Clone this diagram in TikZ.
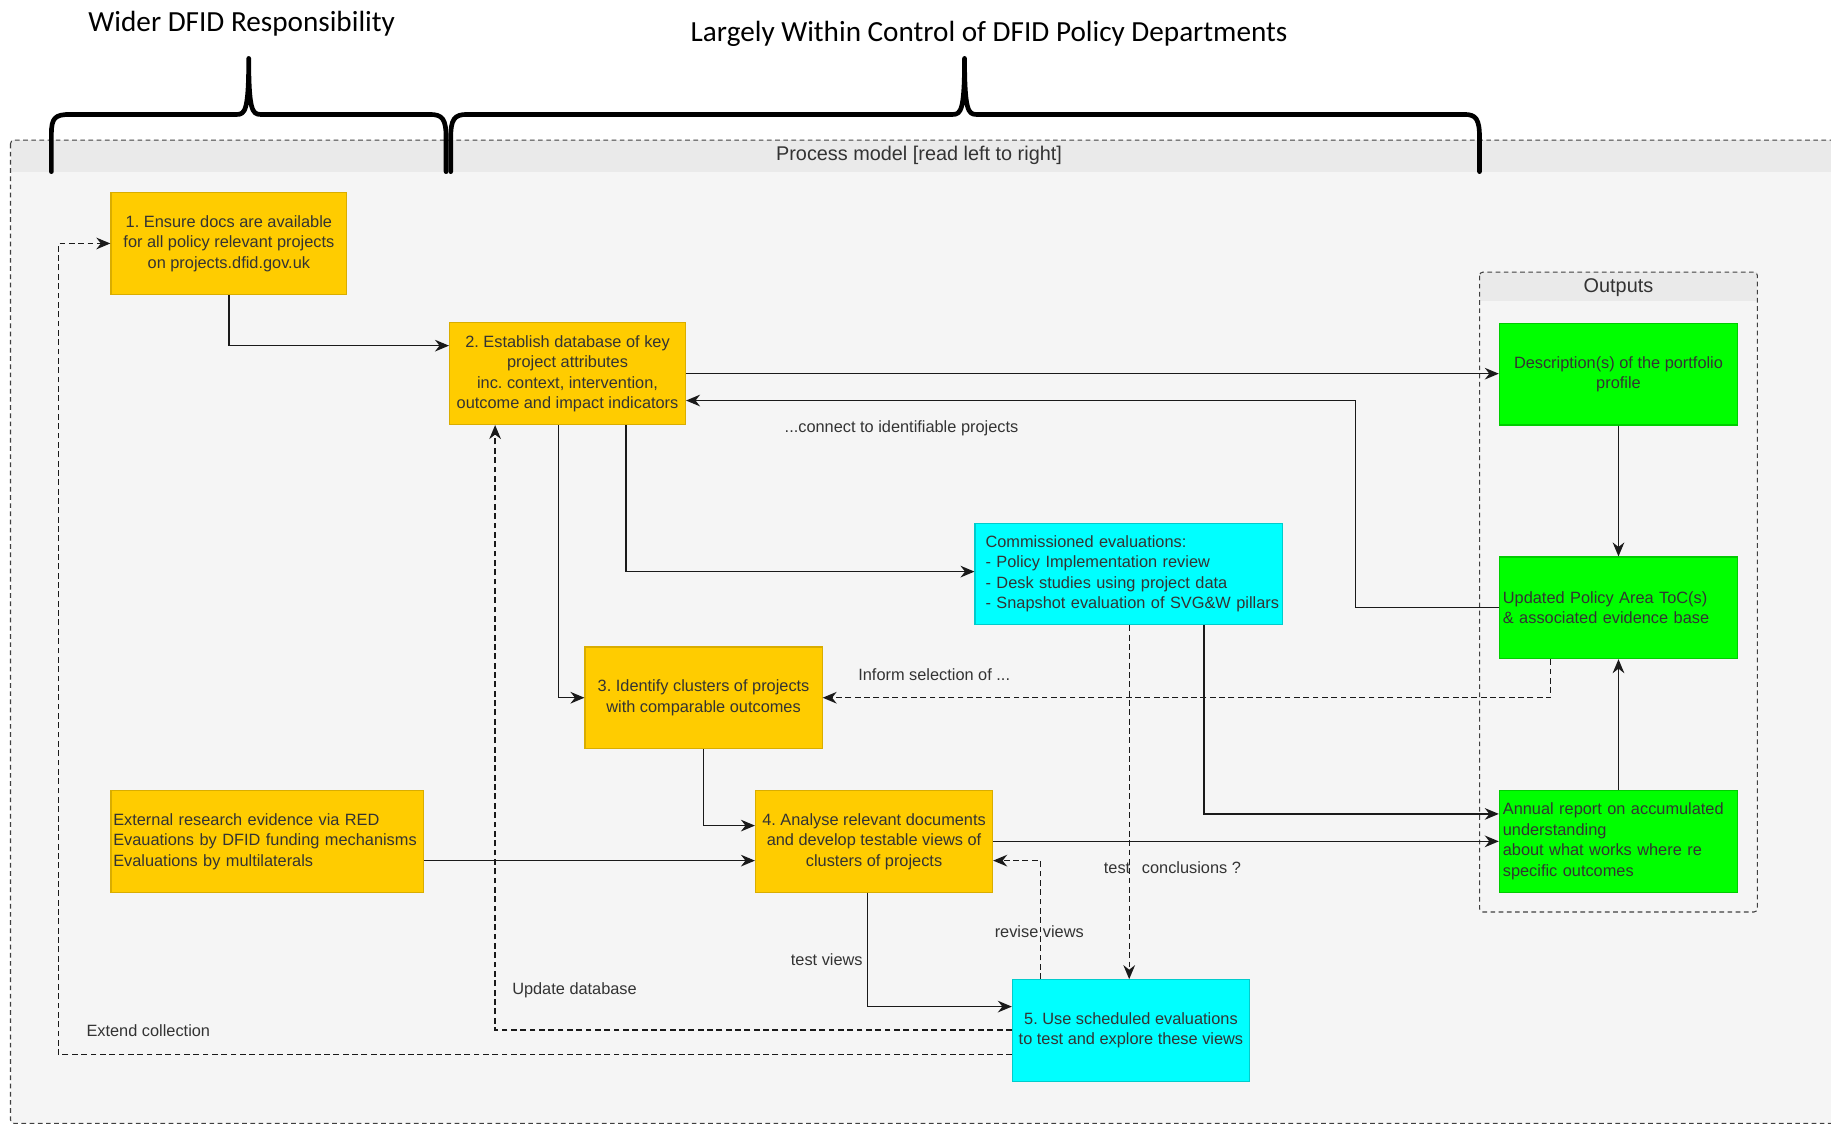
\documentclass[tikz,border=0pt]{standalone}
\usepackage{fontspec}
\setmainfont{Liberation Sans}
\newfontfamily\calib{Carlito}
\usetikzlibrary{arrows.meta}
\definecolor{ybox}{HTML}{FFCC00}
\definecolor{yborder}{HTML}{D9AD00}
\definecolor{cbox}{HTML}{00FFFF}
\definecolor{cborder}{HTML}{00CCCC}
\definecolor{gbox}{HTML}{00FF00}
\definecolor{gborder}{HTML}{00CC00}
\definecolor{bgc}{HTML}{F5F5F5}
\definecolor{hdr}{HTML}{EAEAEA}
\definecolor{txt}{HTML}{333333}
\definecolor{cline}{HTML}{1A1A1A}
\frenchspacing
\begin{document}
\begin{tikzpicture}[x=1pt,y=-1pt,
  base/.style={draw, line width=1pt, minimum height=87pt, inner ysep=0pt, inner xsep=4pt,
    font=\fontsize{14}{17.5}\selectfont, text=txt},
  ybx/.style={base, fill=ybox, draw=yborder},
  cbx/.style={base, fill=cbox, draw=cborder},
  gbx/.style={base, fill=gbox, draw=gborder},
  cont/.style={draw=black!75, line width=0.9pt, dash pattern=on 4pt off 3pt},
  arr/.style={draw=cline, line width=1.1pt, -{Stealth[length=12pt,width=10pt]}},
  darr/.style={arr, dash pattern=on 5pt off 3pt},
  lbl/.style={font=\fontsize{14}{17}\selectfont, text=txt, inner sep=0pt},
  brace/.style={line width=4pt, line join=round, line cap=round},
  head/.style={font=\calib\fontsize{25}{30}\selectfont, inner sep=0pt}
]
\useasboundingbox (0,0) rectangle (1568,964);
\clip (0,0) rectangle (1568,964);
\fill[white] (0,0) rectangle (1568,964);

% outer container
\fill[bgc] (9,120) rectangle (1600,962);
\fill[hdr] (9,120) rectangle (1600,147);
\draw[cont, rounded corners=3pt] (9,120) rectangle (1600,962);
\node[font=\fontsize{17}{20}\selectfont, text=txt] (ptitle) at (787,133) {Process model [read left to right]};

% outputs container
\fill[bgc] (1267,233) rectangle (1505,781);
\fill[hdr] (1267,233) rectangle (1505,258);
\draw[cont, rounded corners=3pt] (1267,233) rectangle (1505,781);
\node[font=\fontsize{17}{20}\selectfont, text=txt] (otitle) at (1386,246) {Outputs};

% braces
\draw[brace] (44,147) -- (44,115) .. controls (44,101) and (47,98) .. (60,98) -- (203,98)
  .. controls (210,98) and (213,94) .. (213,50) .. controls (213,94) and (216,98) .. (223,98)
  -- (368,98) .. controls (379,98) and (382,102) .. (382,118) -- (382,147);
\draw[brace] (386,147) -- (386,118) .. controls (386,102) and (389,98) .. (400,98) -- (816,98)
  .. controls (823,98) and (826,94) .. (826,50) .. controls (826,94) and (829,98) .. (836,98)
  -- (1254,98) .. controls (1264,98) and (1267,102) .. (1267,118) -- (1267,147);
\node[head] (h1) at (207,20) {Wider DFID Responsibility};
\node[head] (h2) at (847,29) {Largely Within Control of DFID Policy Departments};

% boxes
\node[ybx, minimum width=202pt, align=center] (b1) at (196,208.5)
  {1. Ensure docs are available\\for all policy relevant projects\\on projects.dfid.gov.uk};
\node[ybx, minimum width=202pt, align=center] (b2) at (486,320)
  {2. Establish database of key\\project attributes\\inc. context, intervention,\\outcome and impact indicators};
\node[cbx, text width=245pt, inner xsep=9pt, align=left] (comm) at (966.5,491.5)
  {\mbox{Commissioned evaluations:}\\\mbox{- Policy Implementation review}\\\mbox{- Desk studies using project data}\\\mbox{- Snapshot evaluation of SVG\&W pillars}};
\node[ybx, minimum width=203pt, align=center] (b3) at (602.5,597.5)
  {3. Identify clusters of projects\\with comparable outcomes};
\node[ybx, text width=264pt, inner xsep=2pt, align=left] (ext) at (229,720.5)
  {\mbox{External research evidence via RED}\\\mbox{Evauations by DFID funding mechanisms}\\\mbox{Evaluations by multilaterals}};
\node[ybx, minimum width=203pt, align=center] (b4) at (748.5,720.5)
  {4. Analyse relevant documents\\and develop testable views of\\clusters of projects};
\node[cbx, minimum width=203pt, align=center] (b5) at (968.5,882.5)
  {5. Use scheduled evaluations\\to test and explore these views};
\node[gbx, minimum width=204pt, align=center] (desc) at (1386,320.5)
  {Description(s) of the portfolio\\profile};
\node[gbx, text width=198pt, inner xsep=3pt, align=left] (upd) at (1386,520.5)
  {\mbox{Updated Policy Area ToC(s)}\\\mbox{\& associated evidence base}};
\node[gbx, text width=198pt, inner xsep=3pt, align=left] (ann) at (1386,720.5)
  {\mbox{Annual report on accumulated}\\\mbox{understanding}\\\mbox{about what works where re}\\\mbox{specific outcomes}};

% connectors
\coordinate (c3) at (1161,343);
\coordinate (c15) at (50,903);
\draw[arr] (b1.south) |- (b2.west |- 0,296);
\draw[arr] (b2.east |- 0,320) -- (desc.west |- 0,320);
\draw[arr] (upd.west) -| (c3) -- (b2.east |- c3);
\draw[arr] (b2.south -| 536,0) |- (comm.west |- 0,489.5);
\draw[arr] (b2.south -| 478,0) |- (b3.west);
\draw[darr] (upd.south -| 1328,0) |- (b3.east);
\draw[arr] (comm.south -| 1031,0) |- (ann.west |- 0,697);
\draw[darr] (comm.south -| 967,0) -- (b5.north -| 967,0);
\draw[arr] (b3.south) |- (b4.west |- 0,707);
\draw[arr] (ext.east |- 0,737) -- (b4.west |- 0,737);
\draw[arr] (b4.east) -- (ann.west |- b4.east);
\draw[darr] (b5.north -| 891,0) |- (b4.east |- 0,737);
\draw[arr] (b4.south -| 743,0) |- (b5.west |- 0,862);
\draw[darr] (b5.west |- 0,882) -| (b2.south -| 424,0);
\draw[darr] (b5.west |- c15) -- (c15) |- (b1.west);
\draw[arr] (desc) -- (upd);
\draw[arr] (ann) -- (upd);

% labels
\node[lbl] (l1) at (772,367) {...connect to identifiable projects};
\node[lbl] (l2) at (800,578) {Inform selection of ...};
\node[lbl] (l3) at (1004,743) {test\hspace{10pt}conclusions ?};
\node[lbl] (l4) at (890,798) {revise views};
\node[lbl] (l5) at (708,822) {test views};
\node[lbl] (l6) at (492,848) {Update database};
\node[lbl] (l7) at (127,883) {Extend collection};
\end{tikzpicture}
\end{document}
